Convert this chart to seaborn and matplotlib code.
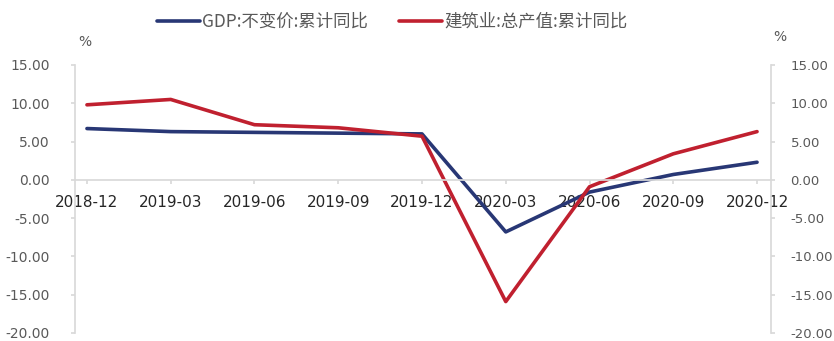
import matplotlib
matplotlib.use("Agg")
import matplotlib.pyplot as plt
import seaborn as sns
import pandas as pd
from matplotlib.lines import Line2D

# Quarterly cumulative year-on-year growth (%)
quarters = ["2018-12", "2019-03", "2019-06", "2019-09", "2019-12",
            "2020-03", "2020-06", "2020-09", "2020-12"]
gdp_yoy = [6.7, 6.3, 6.2, 6.1, 6.0, -6.8, -1.6, 0.7, 2.3]
construction_yoy = [9.8, 10.5, 7.2, 6.8, 5.7, -15.9, -0.9, 3.4, 6.3]

series_names = ["GDP:不变价:累计同比", "建筑业:总产值:累计同比"]
series_colors = ["#283775", "#C0202F"]
y_ticks = [15, 10, 5, 0, -5, -10, -15, -20]

sns.set_theme(style="white")
plt.rcParams["font.family"] = ["DejaVu Sans", "Noto Sans CJK SC"]
plt.rcParams["axes.unicode_minus"] = False

df = pd.DataFrame({
    "idx": list(range(len(quarters))) * 2,
    "value": gdp_yoy + construction_yoy,
    "series": [series_names[0]] * len(quarters) + [series_names[1]] * len(quarters),
})

fig = plt.figure(figsize=(8.34, 3.41), dpi=100)
ax = fig.add_axes([0.0899, 0.0235, 0.8346, 0.7859])

sns.lineplot(data=df, x="idx", y="value", hue="series",
             palette=series_colors, linewidth=2.6, ax=ax, legend=False)

grey_text = "#595959"
spine_col = "#D9D9D9"
tick_labels = [f"{v:.2f}" for v in y_ticks]

ax.set_xlim(-0.143, 8.167)
ax.set_ylim(-20, 15)
ax.set_yticks(y_ticks)
ax.set_yticklabels(tick_labels, color=grey_text, fontsize=10)
ax.set_xticks(range(len(quarters)))
ax.set_xticklabels(quarters, color=grey_text, fontsize=10)
ax.set_xlabel("")
ax.set_ylabel("")

for side in ["top", "right"]:
    ax.spines[side].set_visible(False)
ax.spines["bottom"].set_position(("data", 0))
ax.spines["bottom"].set_color(spine_col)
ax.spines["left"].set_color(spine_col)
ax.tick_params(axis="y", length=3, color=spine_col, pad=15, direction="out", left=True)
ax.tick_params(axis="x", length=3, color=spine_col, pad=8, direction="out", bottom=True)

# Secondary axis with the same scale on the right
ax2 = ax.twinx()
ax2.set_ylim(-20, 15)
ax2.set_yticks(y_ticks)
ax2.set_yticklabels(tick_labels, color=grey_text, fontsize=9.5)
for side in ["top", "left", "bottom"]:
    ax2.spines[side].set_visible(False)
ax2.spines["right"].set_color(spine_col)
ax2.tick_params(axis="y", length=3, color=spine_col, pad=11, direction="out", right=True)
ax2.grid(False)
ax.grid(False)

# Unit labels
fig.text(85 / 834, 1 - 42 / 341, "%", color=grey_text, fontsize=10, ha="center", va="center")
fig.text(780 / 834, 1 - 37 / 341, "%", color=grey_text, fontsize=10, ha="center", va="center")

# Legend
handles = [Line2D([0], [0], color=c, linewidth=2.6) for c in series_colors]
fig.legend(handles, series_names, loc="center", bbox_to_anchor=(392 / 834, 1 - 22 / 341),
           ncol=2, frameon=False, handlelength=2.5, handletextpad=0.1, columnspacing=1.8,
           prop={"family": ["Noto Sans CJK SC", "DejaVu Sans"], "size": 12.5},
           labelcolor=grey_text)

fig.savefig("out.png", dpi=100)
